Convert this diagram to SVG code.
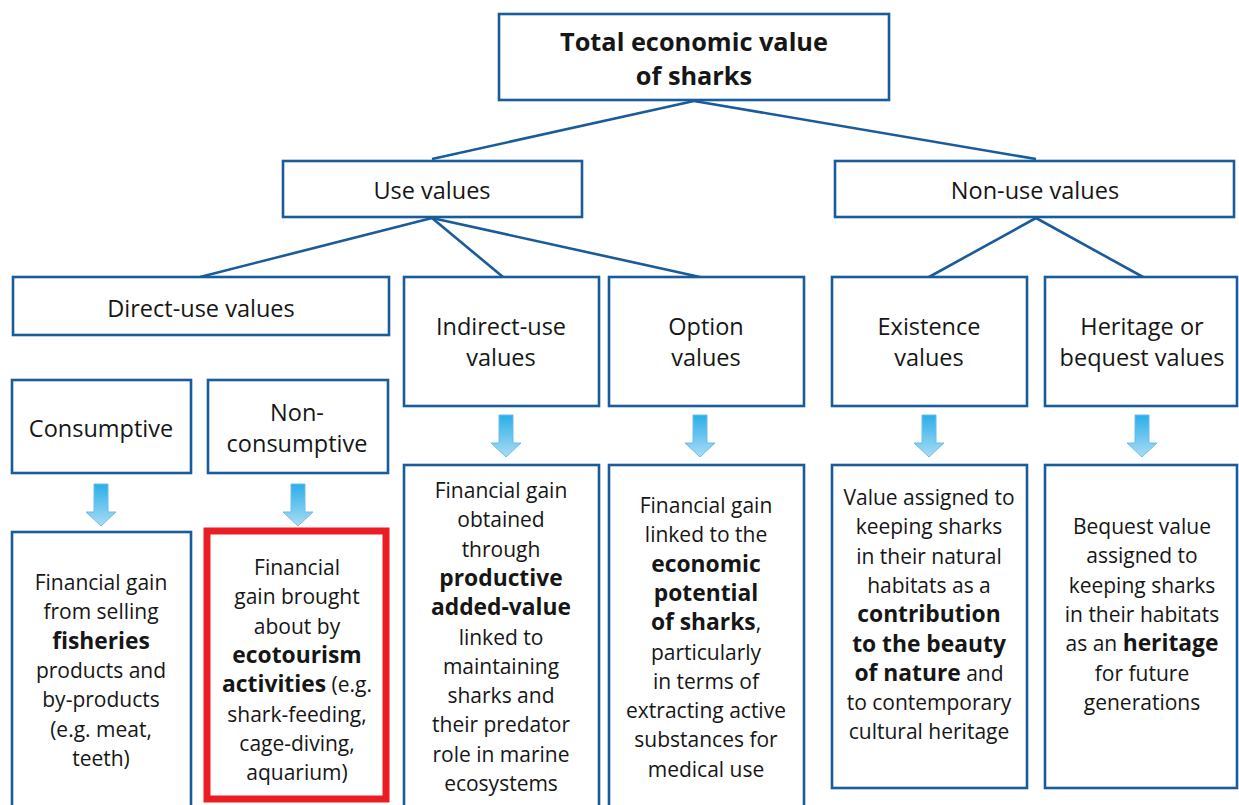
<svg xmlns="http://www.w3.org/2000/svg" width="1239" height="805" viewBox="0 0 1239 805">
  <style>
    .box { fill: #ffffff; stroke: #1a5b9b; stroke-width: 2.6; }
    .hot { fill: #ffffff; stroke: #ec1c24; stroke-width: 7; }
    .link { stroke: #1a5b9b; stroke-width: 2.6; fill: none; }
    text { font-family: "Open Sans", "Noto Sans", "DejaVu Sans", sans-serif; fill: #161616; text-anchor: middle; }
    .title { font-size: 25.3px; font-weight: 700; }
    .head { font-size: 23.5px; }
    .body { font-size: 21px; }
    .b { font-weight: 700; font-size: 22.8px; }
  </style>
  <defs>
    <linearGradient id="arrowFill" x1="0" y1="0" x2="0" y2="1">
      <stop offset="0" stop-color="#2aaee9"/>
      <stop offset="1" stop-color="#a9dcf5"/>
    </linearGradient>
    <!-- block arrow pointing down, tip at (0,42) -->
    <path id="downArrow" d="M -7 0 H 7 V 28 H 15 L 0 42 L -15 28 H -7 Z" fill="url(#arrowFill)" stroke="#6fbde6" stroke-width="1"/>
  </defs>

  <!-- connectors -->
  <g id="connectors">
    <line class="link" x1="694" y1="101" x2="432" y2="159"/>
    <line class="link" x1="694" y1="101" x2="1036" y2="159"/>
    <line class="link" x1="432" y1="218" x2="200" y2="277"/>
    <line class="link" x1="432" y1="218" x2="503" y2="277"/>
    <line class="link" x1="432" y1="218" x2="700" y2="277"/>
    <line class="link" x1="1036" y1="218" x2="929" y2="277"/>
    <line class="link" x1="1036" y1="218" x2="1143" y2="277"/>
    <use href="#downArrow" x="101" y="484"/>
    <use href="#downArrow" x="298" y="484"/>
    <use href="#downArrow" x="506" y="415"/>
    <use href="#downArrow" x="700" y="415"/>
    <use href="#downArrow" x="929" y="415"/>
    <use href="#downArrow" x="1142" y="415"/>
  </g>

  <g id="total">
    <rect class="box" x="499" y="14" width="390" height="86"/>
    <text class="title" x="694" y="51">Total economic value</text>
    <text class="title" x="694" y="85">of sharks</text>
  </g>

  <g id="use-values">
    <rect class="box" x="283" y="161" width="299" height="56"/>
    <text class="head" x="432" y="199">Use values</text>
  </g>

  <g id="non-use-values">
    <rect class="box" x="835" y="161" width="399" height="56"/>
    <text class="head" x="1035" y="199">Non-use values</text>
  </g>

  <g id="direct-use">
    <rect class="box" x="13" y="277" width="376" height="58"/>
    <text class="head" x="201" y="317">Direct-use values</text>
  </g>

  <g id="indirect-use">
    <rect class="box" x="404" y="277" width="195" height="129"/>
    <text class="head" x="501" y="335">Indirect-use</text>
    <text class="head" x="501" y="366">values</text>
  </g>

  <g id="option">
    <rect class="box" x="609" y="277" width="195" height="129"/>
    <text class="head" x="706" y="335">Option</text>
    <text class="head" x="706" y="366">values</text>
  </g>

  <g id="existence">
    <rect class="box" x="832" y="277" width="195" height="129"/>
    <text class="head" x="929" y="335">Existence</text>
    <text class="head" x="929" y="366">values</text>
  </g>

  <g id="heritage">
    <rect class="box" x="1045" y="277" width="192" height="129"/>
    <text class="head" x="1142" y="335">Heritage or</text>
    <text class="head" x="1142" y="366">bequest values</text>
  </g>

  <g id="consumptive">
    <rect class="box" x="12" y="380" width="179" height="93"/>
    <text class="head" x="101" y="437">Consumptive</text>
  </g>

  <g id="non-consumptive">
    <rect class="box" x="208" y="380" width="180" height="93"/>
    <text class="head" x="297" y="421">Non-</text>
    <text class="head" x="297" y="452">consumptive</text>
  </g>

  <g id="consumptive-gain">
    <rect class="box" x="12" y="532" width="179" height="300"/>
    <text class="body" x="101" y="590">Financial gain</text>
    <text class="body" x="101" y="619.3">from selling</text>
    <text class="body b" x="101" y="648.6">fisheries</text>
    <text class="body" x="101" y="677.9">products and</text>
    <text class="body" x="101" y="707.2">by-products</text>
    <text class="body" x="101" y="736.5">(e.g. meat,</text>
    <text class="body" x="101" y="765.8">teeth)</text>
  </g>

  <g id="ecotourism-gain">
    <rect class="hot" x="207" y="531" width="179" height="268"/>
    <text class="body" x="297" y="575">Financial</text>
    <text class="body" x="297" y="604.3">gain brought</text>
    <text class="body" x="297" y="633.6">about by</text>
    <text class="body b" x="297" y="662.9">ecotourism</text>
    <text class="body" x="297" y="692.2"><tspan class="b">activities</tspan> (e.g.</text>
    <text class="body" x="297" y="721.5">shark-feeding,</text>
    <text class="body" x="297" y="750.8">cage-diving,</text>
    <text class="body" x="297" y="780.1">aquarium)</text>
  </g>

  <g id="indirect-gain">
    <rect class="box" x="404" y="465" width="195" height="370"/>
    <text class="body" x="501" y="498">Financial gain</text>
    <text class="body" x="501" y="527.3">obtained</text>
    <text class="body" x="501" y="556.6">through</text>
    <text class="body b" x="501" y="585.9">productive</text>
    <text class="body b" x="501" y="615.2">added-value</text>
    <text class="body" x="501" y="644.5">linked to</text>
    <text class="body" x="501" y="673.8">maintaining</text>
    <text class="body" x="501" y="703.1">sharks and</text>
    <text class="body" x="501" y="732.4">their predator</text>
    <text class="body" x="501" y="761.7">role in marine</text>
    <text class="body" x="501" y="791">ecosystems</text>
  </g>

  <g id="option-gain">
    <rect class="box" x="609" y="465" width="195" height="370"/>
    <text class="body" x="706" y="513">Financial gain</text>
    <text class="body" x="706" y="542.3">linked to the</text>
    <text class="body b" x="706" y="571.6">economic</text>
    <text class="body b" x="706" y="600.9">potential</text>
    <text class="body" x="706" y="630.2"><tspan class="b">of sharks</tspan>,</text>
    <text class="body" x="706" y="659.5">particularly</text>
    <text class="body" x="706" y="688.8">in terms of</text>
    <text class="body" x="706" y="718.1">extracting active</text>
    <text class="body" x="706" y="747.4">substances for</text>
    <text class="body" x="706" y="776.7">medical use</text>
  </g>

  <g id="existence-value">
    <rect class="box" x="832" y="465" width="195" height="323"/>
    <text class="body" x="929" y="505">Value assigned to</text>
    <text class="body" x="929" y="534.3">keeping sharks</text>
    <text class="body" x="929" y="563.6">in their natural</text>
    <text class="body" x="929" y="592.9">habitats as a</text>
    <text class="body b" x="929" y="622.2">contribution</text>
    <text class="body b" x="929" y="651.5">to the beauty</text>
    <text class="body" x="929" y="680.8"><tspan class="b">of nature</tspan> and</text>
    <text class="body" x="929" y="710.1">to contemporary</text>
    <text class="body" x="929" y="739.4">cultural heritage</text>
  </g>

  <g id="bequest-value">
    <rect class="box" x="1045" y="465" width="192" height="323"/>
    <text class="body" x="1142" y="534">Bequest value</text>
    <text class="body" x="1142" y="563.3">assigned to</text>
    <text class="body" x="1142" y="592.6">keeping sharks</text>
    <text class="body" x="1142" y="621.9">in their habitats</text>
    <text class="body" x="1142" y="651.2">as an <tspan class="b">heritage</tspan></text>
    <text class="body" x="1142" y="680.5">for future</text>
    <text class="body" x="1142" y="709.8">generations</text>
  </g>
</svg>
